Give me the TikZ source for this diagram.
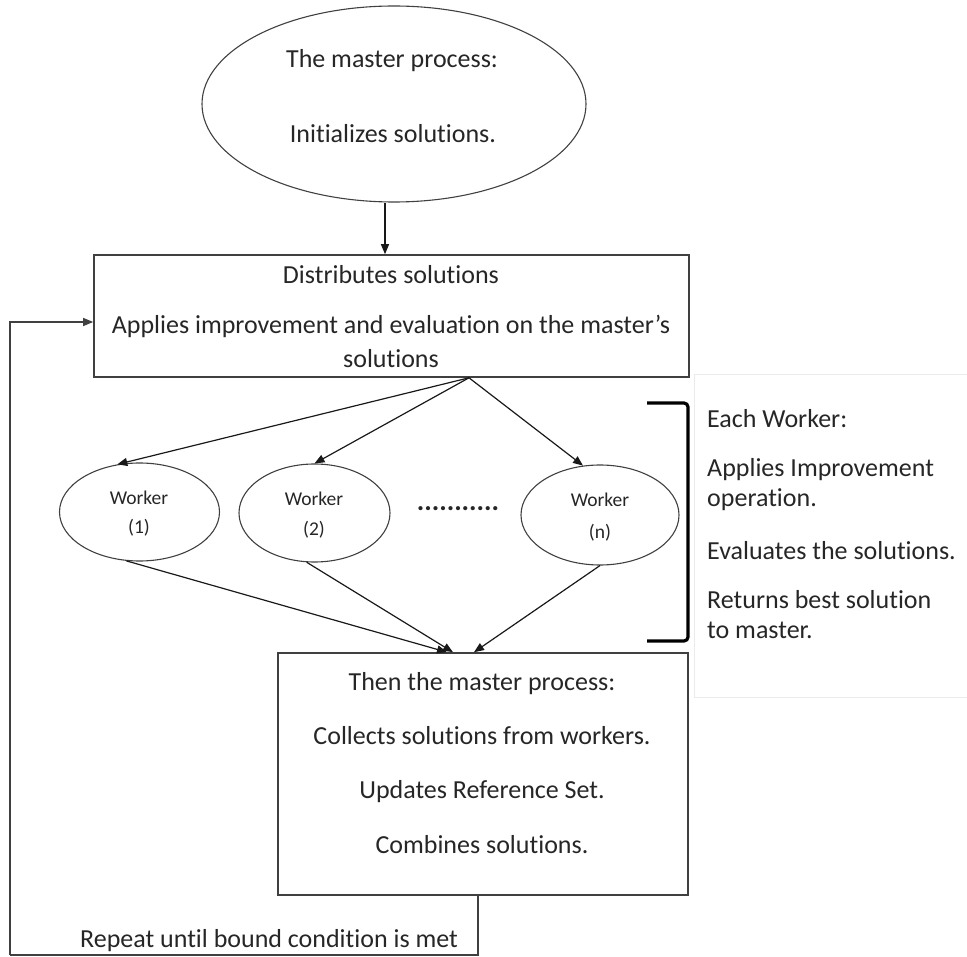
\documentclass[tikz,border=0pt]{standalone}
\usepackage{fontspec}
\setmainfont{Carlito}[RawFeature={-liga;-clig;-calt;-dlig;-rlig}]
\usetikzlibrary{arrows.meta,shapes.geometric}
\begin{document}
\begin{tikzpicture}[x=1pt,y=-1pt,
  shapeline/.style={draw=black!75,line width=1.1pt},
  box/.style={shapeline,rectangle,inner sep=0pt,line width=1.6pt},
  oval/.style={shapeline,ellipse,inner sep=0pt},
  txt/.style={anchor=base,inner sep=0pt,text=black!85,font=\fontsize{26}{30}\selectfont},
  wtxt/.style={txt,font=\fontsize{19.5}{24}\selectfont},
  note/.style={txt,anchor=base west},
  flow/.style={-{Triangle[length=10pt,width=8pt]},line width=1.2pt,draw=black!90},
]
\useasboundingbox (0,0) rectangle (967,957);

% ---- shapes ----
\node[oval,minimum width=384pt,minimum height=196pt] (master) at (394,104) {};
\node[box,minimum width=595pt,minimum height=122pt] (dist) at (391.5,316) {};
\node[oval,minimum width=160pt,minimum height=98pt] (w1) at (139.5,512) {};
\node[oval,minimum width=151pt,minimum height=98pt] (w2) at (314.5,513) {};
\node[oval,minimum width=158pt,minimum height=100pt] (wn) at (600,515) {};
\node[box,minimum width=410pt,minimum height=242pt] (collect) at (483,774) {};
\node[draw=black!8,line width=1pt,rectangle,inner sep=0pt,anchor=north west,
      minimum width=290pt,minimum height=323pt] (notes) at (694,374) {};

% ---- texts ----
\node[txt] (m1) at (392,68) {The master process:};
\node[txt] (m2) at (393,143) {Initializes solutions.};
\node[txt] (d1) at (391,284) {Distributes solutions};
\node[txt] (d2) at (391,334) {Applies improvement and evaluation on the master’s};
\node[txt] (d3) at (391,368) {solutions};
\node[wtxt] (w1a) at (139,504) {Worker};
\node[wtxt] (w1b) at (139,533) {(1)};
\node[wtxt] (w2a) at (314,506) {Worker};
\node[wtxt] (w2b) at (314,535) {(2)};
\node[wtxt] (wna) at (600,507) {Worker};
\node[wtxt] (wnb) at (600,538) {(n)};
\node[txt,font=\fontsize{28}{30}\selectfont\bfseries] (dots) at (458,511) {...........};
\node[txt] (c1) at (482,690) {Then the master process:};
\node[txt] (c2) at (482,744) {Collects solutions from workers.};
\node[txt] (c3) at (482,798) {Updates Reference Set.};
\node[txt] (c4) at (482,853) {Combines solutions.};
\node[note] (n1) at (707,428) {Each Worker:};
\node[note] (n2) at (707,477) {Applies Improvement};
\node[note] (n3) at (707,507) {operation.};
\node[note] (n4) at (707,559) {Evaluates the solutions.};
\node[note] (n5) at (707,608) {Returns best solution};
\node[note] (n6) at (707,638) {to master.};
\node[txt,anchor=base west] (repeat) at (80,947) {Repeat until bound condition is met};

% ---- bracket grouping the workers ----
\draw[line width=3.2pt,rounded corners=4pt] (647,403) -- (688,403) -- (688,641) -- (647,641);

% ---- connectors ----
\draw[flow] ([xshift=-9pt]master.south) -- ([xshift=-9pt]master.south |- dist.north);
\coordinate (fork) at ([xshift=77.5pt]dist.south);
\draw[flow] (fork) -- (w1.115);
\draw[flow] (fork) -- (w2.north);
\draw[flow] (fork) -- (wn.109);
\draw[flow] (w1.255) -- ([xshift=-36pt]collect.north);
\draw[flow] (w2.261) -- ([xshift=-30pt]collect.north);
\draw[flow] (wn.south) -- ([xshift=-9pt]collect.north);

% ---- loop back ----
\coordinate (loopcorner) at (10,955);
\draw[line width=1.1pt,draw=black!75] ([xshift=-5pt]collect.south) |- (loopcorner);
\draw[flow,draw=black!75] (loopcorner) |- ([yshift=-6pt]dist.west);
\end{tikzpicture}
\end{document}
